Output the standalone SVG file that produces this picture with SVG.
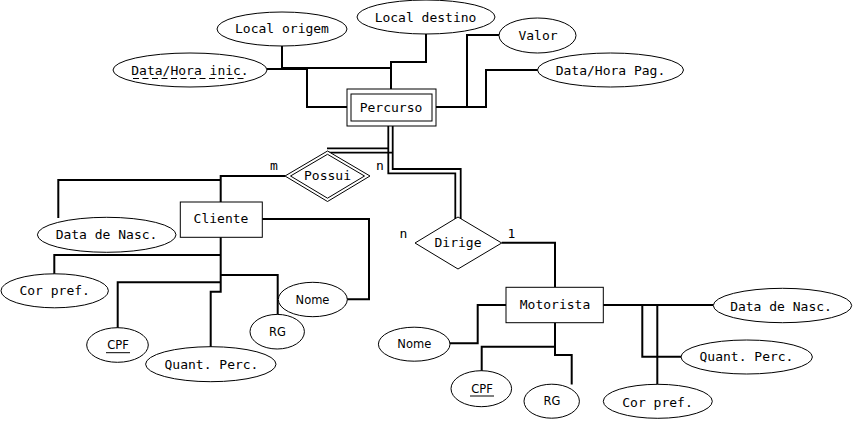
<svg xmlns="http://www.w3.org/2000/svg" width="854" height="422" viewBox="0 0 854 422">
<style>
.bg{fill:#fff}
.ent{fill:#fff;stroke:#000;stroke-width:1}
.att{fill:#fff;stroke:#000;stroke-width:1}
.rel{fill:#fff;stroke:#000;stroke-width:1}
.ln{fill:none;stroke:#000;stroke-width:2}
.dl{fill:none;stroke:#000;stroke-width:1.8}
.t{font-family:"DejaVu Sans Mono","Liberation Mono",monospace;font-size:13px;fill:#000;text-anchor:middle}
.s{font-family:"DejaVu Sans","Liberation Sans",sans-serif;font-size:11.5px;fill:#000;text-anchor:middle}
.ul{stroke:#000;stroke-width:1}
</style>
<rect class="bg" x="0" y="0" width="854" height="422"/>
<g id="connectors">
<path class="ln" d="M267,69 H307 V107 H347"/>
<path class="ln" d="M282,46 V68 H391"/>
<path class="ln" d="M426,34 V62 H391 V89"/>
<path class="ln" d="M436,107 H486 V70 H538"/>
<path class="ln" d="M467,107 V35 H499"/>
<path class="dl" d="M388.3,126 V173.3 H455.3 V219"/>
<path class="dl" d="M392.7,126 V169 H460.7 V219"/>
<path class="dl" d="M327,148.3 H388.3"/>
<path class="dl" d="M327,152.7 H392.7"/>
<path class="ln" d="M285,176 H220.7 V202"/>
<path class="ln" d="M220.7,180 H58.3 V218"/>
<path class="ln" d="M262,219 H369 V299.3 H347"/>
<path class="ln" d="M220.7,237 V291.7 H210.7 V347"/>
<path class="ln" d="M220.7,255 H54.3 V274"/>
<path class="ln" d="M220.7,275 H277.7 V314.5"/>
<path class="ln" d="M220.7,282.3 H117.7 V328"/>
<path class="ln" d="M501.7,242.7 H555 V287"/>
<path class="ln" d="M506,305 H477.7 V343.3 H450"/>
<path class="ln" d="M555,322.7 V355 H571.7 V384.5"/>
<path class="ln" d="M555,346.7 H481.7 V371"/>
<path class="ln" d="M603,305 H713.5"/>
<path class="ln" d="M642.3,305 V356.7 H681"/>
<path class="ln" d="M657.3,305 V384.5"/>
</g>
<g id="percurso">
<rect class="ent" x="347" y="89" width="89" height="37"/>
<rect class="ent" x="351" y="94" width="81" height="27"/>
<text class="t" x="391" y="111.5">Percurso</text>
</g>
<g id="local-origem">
<ellipse class="att" cx="282" cy="29" rx="65" ry="17"/>
<text class="t" x="282" y="33">Local origem</text>
</g>
<g id="local-destino">
<ellipse class="att" cx="426" cy="17" rx="69" ry="17"/>
<text class="t" x="425.5" y="21.5">Local destino</text>
</g>
<g id="data-hora-inic">
<ellipse class="att" cx="190" cy="70" rx="77" ry="17"/>
<text class="t" x="190" y="74.5">Data/Hora inic.</text>
<line class="ul" x1="133" y1="78.5" x2="247" y2="78.5" stroke-dasharray="6 3.5"/>
</g>
<g id="valor">
<ellipse class="att" cx="537.5" cy="35.5" rx="38.5" ry="17.5"/>
<text class="t" x="538" y="39.5">Valor</text>
</g>
<g id="data-hora-pag">
<ellipse class="att" cx="610.5" cy="70" rx="73" ry="17"/>
<text class="t" x="610.5" y="74.5">Data/Hora Pag.</text>
</g>
<g id="possui">
<polygon class="rel" points="285,176 327.5,151 370,176 327.5,201.5"/>
<polygon class="rel" points="290.5,176 327.5,154.3 364.5,176 327.5,198.2"/>
<text class="t" x="327.5" y="179.5">Possui</text>
</g>
<g id="dirige">
<polygon class="rel" points="415,243 458,217 501.7,243 458,269"/>
<text class="t" x="458" y="247">Dirige</text>
</g>
<g id="cardinalities">
<text class="t" x="274" y="170">m</text>
<text class="t" x="380" y="170">n</text>
<text class="t" x="403.5" y="237.5">n</text>
<text class="t" x="511.5" y="237.5">1</text>
</g>
<g id="cliente">
<rect class="ent" x="180.3" y="202" width="82" height="35.3"/>
<text class="t" x="221" y="223">Cliente</text>
</g>
<g id="cliente-data-nasc">
<ellipse class="att" cx="106.7" cy="234.8" rx="69.3" ry="17.5"/>
<text class="t" x="106.5" y="238.8">Data de Nasc.</text>
</g>
<g id="cliente-cor-pref">
<ellipse class="att" cx="54.7" cy="290.8" rx="53.7" ry="17"/>
<text class="t" x="54.7" y="294.5">Cor pref.</text>
</g>
<g id="cliente-nome">
<ellipse class="att" cx="312.8" cy="299.5" rx="34.5" ry="17.2"/>
<text class="s" x="312.5" y="303.5">Nome</text>
</g>
<g id="cliente-rg">
<ellipse class="att" cx="277.2" cy="331.7" rx="27.2" ry="17.3"/>
<text class="s" x="277.5" y="335.9">RG</text>
</g>
<g id="cliente-cpf">
<ellipse class="att" cx="117.5" cy="345" rx="30.8" ry="17.3"/>
<text class="s" x="118" y="348.5">CPF</text>
<line class="ul" x1="106" y1="352.7" x2="130" y2="352.7"/>
</g>
<g id="cliente-quant-perc">
<ellipse class="att" cx="210.8" cy="364.2" rx="65.2" ry="17.5"/>
<text class="t" x="211.5" y="368.8">Quant. Perc.</text>
</g>
<g id="motorista">
<rect class="ent" x="506" y="287.3" width="97.3" height="35.4"/>
<text class="t" x="555" y="308.8">Motorista</text>
</g>
<g id="motorista-nome">
<ellipse class="att" cx="414.2" cy="344.2" rx="35.8" ry="17"/>
<text class="s" x="414.3" y="348.2">Nome</text>
</g>
<g id="motorista-cpf">
<ellipse class="att" cx="481.3" cy="388.7" rx="30.3" ry="18"/>
<text class="s" x="482" y="392.5">CPF</text>
<line class="ul" x1="470" y1="396" x2="494" y2="396"/>
</g>
<g id="motorista-rg">
<ellipse class="att" cx="551.7" cy="401.2" rx="27.7" ry="17"/>
<text class="s" x="552" y="405.2">RG</text>
</g>
<g id="motorista-data-nasc">
<ellipse class="att" cx="782.5" cy="305.5" rx="69.2" ry="17.2"/>
<text class="t" x="781" y="310.5">Data de Nasc.</text>
</g>
<g id="motorista-quant-perc">
<ellipse class="att" cx="746.7" cy="357" rx="65.7" ry="17"/>
<text class="t" x="746.5" y="361.2">Quant. Perc.</text>
</g>
<g id="motorista-cor-pref">
<ellipse class="att" cx="657.8" cy="401.3" rx="54.5" ry="17"/>
<text class="t" x="657.5" y="406.8">Cor pref.</text>
</g>
</svg>
